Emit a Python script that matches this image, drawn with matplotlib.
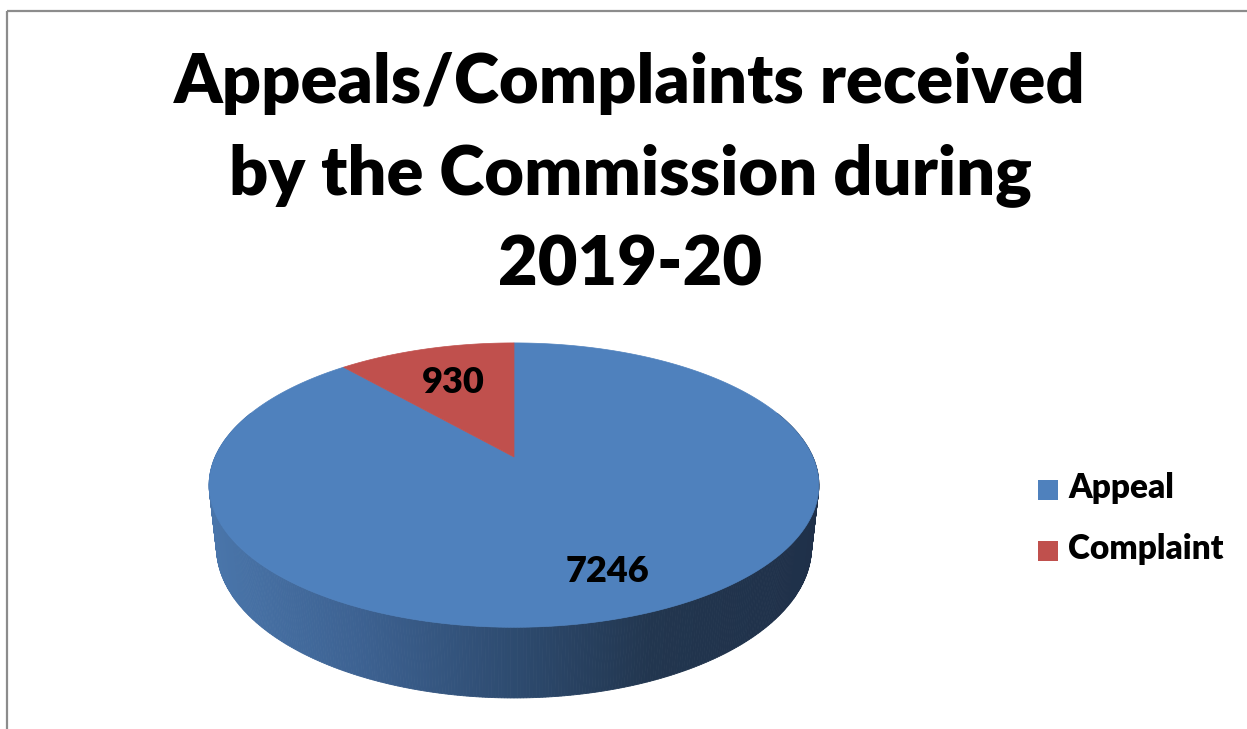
import numpy as np
import matplotlib
matplotlib.use("Agg")
import matplotlib.pyplot as plt
from matplotlib.patches import Polygon, Rectangle
from matplotlib.colors import to_rgb

categories = ['Appeal', 'Complaint']
values = [7246, 930]
colors = ['#4F81BD', '#C0504D']
title_lines = ['Appeals/Complaints received', 'by the Commission during', '2019-20']

W, H = 1247, 729
fig = plt.figure(figsize=(W / 100, H / 100), dpi=100)
ax = fig.add_axes([0, 0, 1, 1])
ax.set_xlim(0, W)
ax.set_ylim(H, 0)
ax.axis('off')

FONT = 'Lato'
WEIGHT = 'heavy'

# frame
ax.add_patch(Rectangle((6.5, 10.5), W + 20, H + 20, fill=False, ec='#8c8c8c', lw=1.6))

# projection of a tilted disc with perspective
cx, cy, f, D = 514.0, 457.0, 1345.0, 4.5
elev = np.radians(27.2)
ce, se = np.cos(elev), np.sin(elev)
depth = 0.235


def proj(theta, r=1.0, y=0.0):
    t = np.radians(theta)
    X = r * np.cos(t)
    Z = r * np.sin(t)
    yc = y * ce + Z * se
    zc = D + Z * ce - y * se
    return cx + f * X / zc, cy - f * yc / zc


# wedge angles: first slice starts at 12 o'clock going clockwise
total = float(sum(values))
wedges = []
start = 90.0
for v in values:
    end = start - v / total * 360.0
    wedges.append((end, start))
    start = end

# side wall (front half visible), gradient by screen x
grad_x = [210, 360, 520, 650, 820]
grad_c = [to_rgb(c) for c in ['#4A76AB', '#3D6292', '#2D4A6E', '#22364F', '#1F3049']]


def side_color(x):
    return tuple(np.interp(x, grad_x, [c[i] for c in grad_c]) for i in range(3))


thetas = np.linspace(160, 380, 441)
quads = []
for t1, t2 in zip(thetas[:-1], thetas[1:]):
    p1 = proj(t1)
    p2 = proj(t2)
    p3 = proj(t2, y=-depth)
    p4 = proj(t1, y=-depth)
    zmid = np.sin(np.radians((t1 + t2) / 2))
    quads.append((zmid, [p1, p2, p3, p4]))
quads.sort(key=lambda q: -q[0])
for _, pts in quads:
    xm = np.mean([p[0] for p in pts])
    c = side_color(xm)
    ax.add_patch(Polygon(pts, closed=True, fc=c, ec=c, lw=0.6))

# top face wedges
for (a0, a1), col in zip(wedges, colors):
    ts = np.linspace(a0, a1, 300)
    pts = [proj(t) for t in ts]
    pts = [(cx, cy)] + pts
    ax.add_patch(Polygon(pts, closed=True, fc=col, ec=col, lw=0.5))

# data labels
label_r = [0.77, 0.65]
for (a0, a1), v, r in zip(wedges, values, label_r):
    x, y = proj((a0 + a1) / 2, r=r)
    ax.text(x, y, f"{v}", ha='center', va='center', fontsize=26,
            fontweight=WEIGHT, family=FONT, color='black')

# title
baselines = [103, 194, 285]
for line, yb in zip(title_lines, baselines):
    ax.text(630, yb, line, ha='center', va='baseline', fontsize=49.3,
            fontweight=WEIGHT, family=FONT, color='black')

# legend
leg_y = [488, 549]
for name, col, y in zip(categories, colors, leg_y):
    ax.add_patch(Rectangle((1038, y - 8), 20, 20, fc=col, ec='none'))
    ax.text(1068, y + 10, name, ha='left', va='baseline', fontsize=24,
            fontweight=WEIGHT, family=FONT, color='black')

fig.savefig('out.png', dpi=100)
